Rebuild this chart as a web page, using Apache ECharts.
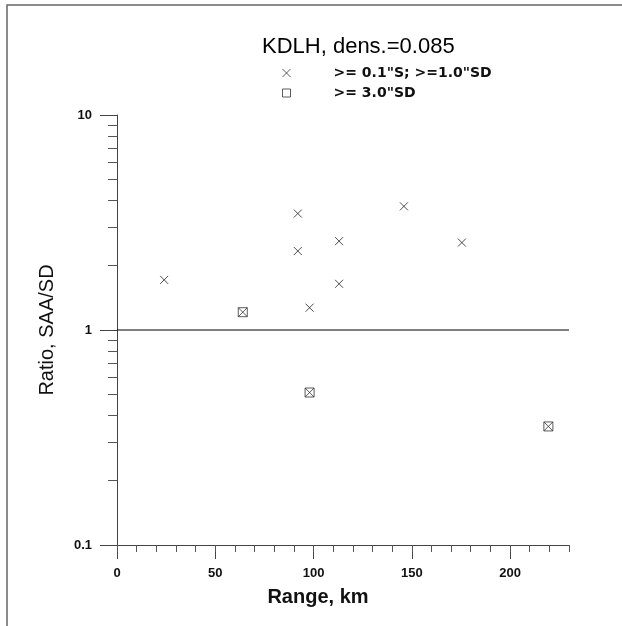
<!DOCTYPE html>
<html><head><meta charset="utf-8">
<script src="https://cdn.jsdelivr.net/npm/echarts@6/dist/echarts.min.js"></script>
<style>html,body{margin:0;padding:0;background:#fff}#c{width:622px;height:626px}</style>
</head><body><div id="c"></div>
<script>
// ---- data ----
const titleText = 'KDLH, dens.=0.085';
const seriesNames = ['>= 0.1"S; >=1.0"SD', '>= 3.0"SD'];
const crossX = [24, 92, 92, 98, 113, 113, 146, 175.5];
const crossY = [1.71, 3.48, 2.33, 1.27, 2.59, 1.64, 3.76, 2.55];
const squareX = [64, 98, 219.5];
const squareY = [1.21, 0.512, 0.356];
const refLineX = [0, 230];
const refLineY = [1, 1];
const xTickLabels = [0, 50, 100, 150, 200];
const yTickLabels = [0.1, 1, 10];
const yMinorTicks = [0.2, 0.3, 0.4, 0.5, 0.6, 0.7, 0.8, 0.9, 2, 3, 4, 5, 6, 7, 8, 9];
const xAxisName = 'Range, km';
const yAxisName = 'Ratio, SAA/SD';

const pairs = (xs, ys) => xs.map((x, i) => [x, ys[i]]);
const crossPath = 'path://M0,0L10,10M10,0L0,10';
const boxPath = 'path://M0,0L10,0L10,10L0,10Z M0,0L10,10 M10,0L0,10';
const lblFont = {fontFamily: 'Liberation Sans', fontWeight: 'bold', fontSize: 13, color: '#111'};
const axisColor = '#444';

const chart = echarts.init(document.getElementById('c'), null, {renderer: 'canvas'});
chart.setOption({
  backgroundColor: '#fff',
  animation: false,
  title: {
    text: titleText, left: 262, top: 36, padding: 0,
    textStyle: {fontFamily: 'Liberation Sans', fontWeight: 'normal', fontSize: 22, color: '#000'}
  },
  legend: {
    orient: 'vertical', left: 282, top: 66, padding: 0, itemGap: 6,
    itemWidth: 8, itemHeight: 8,
    textStyle: {fontFamily: 'DejaVu Sans', fontWeight: 'bold', fontSize: 14, color: '#111', padding: [0, 0, 0, 38]},
    data: [
      {name: seriesNames[0], icon: crossPath, itemStyle: {color: 'rgba(0,0,0,0)', borderColor: '#333', borderWidth: 1}},
      {name: seriesNames[1], icon: 'path://M0,0L10,0L10,10L0,10Z', itemStyle: {color: 'rgba(0,0,0,0)', borderColor: '#333', borderWidth: 1}}
    ]
  },
  graphic: [{
    type: 'rect', shape: {x: 7, y: 5, width: 700, height: 700}, silent: true,
    style: {fill: 'none', stroke: '#666', lineWidth: 1.5}
  }],
  grid: {left: 117, top: 115, right: 53, bottom: 81, containLabel: false},
  xAxis: [{
    type: 'value', min: 0, max: 230, position: 'bottom',
    axisLine: {show: true, onZero: false, lineStyle: {color: axisColor, width: 1}},
    axisTick: {show: true, customValues: xTickLabels, length: 14, lineStyle: {color: axisColor}},
    axisLabel: Object.assign({customValues: xTickLabels, margin: 22}, lblFont),
    splitLine: {show: false},
    name: xAxisName, nameLocation: 'middle', nameGap: 42,
    nameTextStyle: {fontFamily: 'Liberation Sans', fontWeight: 'bold', fontSize: 20, color: '#111', padding: [0, 50, 0, 0]}
  }, {
    type: 'value', min: 0, max: 230, interval: 10, position: 'bottom', gridIndex: 0,
    axisLine: {show: false},
    axisTick: {show: true, length: 7, lineStyle: {color: '#555'}},
    axisLabel: {show: false}, splitLine: {show: false}
  }],
  yAxis: [{
    type: 'log', logBase: 10, min: 0.1, max: 10, position: 'left',
    axisLine: {show: true, onZero: false, lineStyle: {color: axisColor, width: 1}},
    axisTick: {show: true, customValues: yTickLabels, length: 17, lineStyle: {color: axisColor}},
    axisLabel: Object.assign({customValues: yTickLabels, margin: 25}, lblFont),
    splitLine: {show: false}, minorTick: {show: false},
    name: yAxisName, nameLocation: 'middle', nameGap: 60, nameRotate: 90,
    nameTextStyle: {fontFamily: 'Liberation Sans', fontWeight: 'normal', fontSize: 20, color: '#111'}
  }, {
    type: 'log', logBase: 10, min: 0.1, max: 10, position: 'left', gridIndex: 0,
    axisLine: {show: false},
    axisTick: {show: true, customValues: yMinorTicks, length: 9, lineStyle: {color: '#555'}},
    axisLabel: {show: false}, splitLine: {show: false}
  }],
  series: [{
    name: 'ref', type: 'line', xAxisIndex: 0, yAxisIndex: 0, silent: true,
    data: pairs(refLineX, refLineY), symbol: 'none',
    lineStyle: {color: '#000', width: 1}
  }, {
    name: seriesNames[0], type: 'scatter', xAxisIndex: 0, yAxisIndex: 0,
    data: pairs(crossX, crossY), symbol: crossPath, symbolSize: 8,
    itemStyle: {color: 'rgba(0,0,0,0)', borderColor: '#222', borderWidth: 1}
  }, {
    name: seriesNames[1], type: 'scatter', xAxisIndex: 0, yAxisIndex: 0,
    data: pairs(squareX, squareY), symbol: boxPath, symbolSize: 9,
    itemStyle: {color: 'rgba(0,0,0,0)', borderColor: '#333', borderWidth: 1}
  }]
});
</script></body></html>
